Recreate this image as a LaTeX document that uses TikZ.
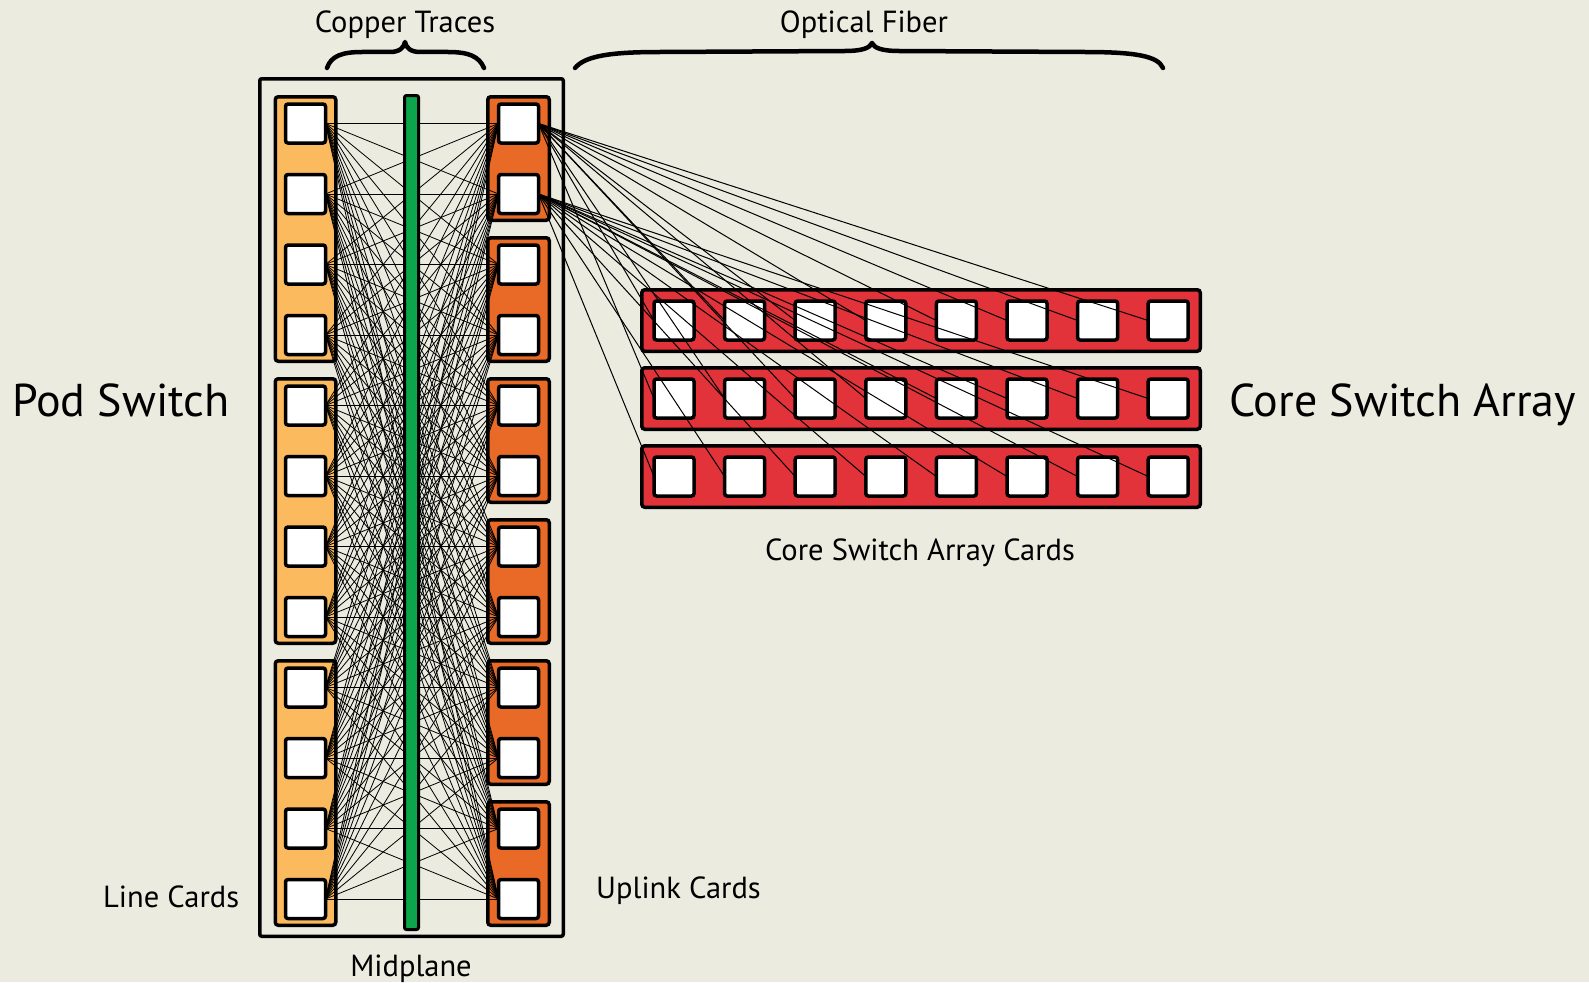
\documentclass[tikz,border=0pt]{standalone}
\usepackage{fontspec}
\setmainfont{PT Sans}
\definecolor{bgc}{RGB}{235,235,224}
\definecolor{lcol}{RGB}{252,186,94}
\definecolor{ucol}{RGB}{232,106,38}
\definecolor{gcol}{RGB}{12,165,75}
\definecolor{ccol}{RGB}{226,50,58}
\pgfdeclarelayer{lback}
\pgfdeclarelayer{lcards}
\pgfdeclarelayer{lwires}
\pgfdeclarelayer{ltop}
\pgfsetlayers{lback,lcards,lwires,main,ltop}
\begin{document}
\begin{tikzpicture}[x=1pt,y=-1pt,
  port/.style={draw=black,line width=3.5pt,fill=white,rounded corners=2.5pt,minimum width=40pt,minimum height=39pt,inner sep=0pt,outer sep=0pt},
  cardbase/.style={draw=black,line width=3.5pt,rounded corners=3pt,inner sep=0pt,outer sep=0pt},
  linecard/.style={cardbase,fill=lcol,minimum width=60.5pt,minimum height=264.5pt},
  upcard/.style={cardbase,fill=ucol,minimum width=61.5pt,minimum height=123.5pt},
  corecard/.style={cardbase,fill=ccol,minimum width=558.5pt,minimum height=61.5pt},
  podbox/.style={draw=black,line width=3.5pt,rounded corners=2pt,minimum width=303.5pt,minimum height=857.5pt,inner sep=0pt},
  midbar/.style={draw=black,line width=3pt,fill=gcol,rounded corners=2pt,minimum width=14pt,minimum height=834pt,inner sep=0pt},
  trace/.style={black,line width=0.8pt},
  fiber/.style={black,line width=1pt},
  bracestroke/.style={line width=4.5pt,line cap=round,line join=round},
  lbl/.style={font=\fontsize{30.5}{34}\selectfont,inner sep=0pt},
  biglbl/.style={font=\fontsize{46}{52}\selectfont,inner sep=0pt}]
\useasboundingbox (0,0) rectangle (1589,982);
\begin{pgfonlayer}{lback}
\fill[bgc] (0,0) rectangle (1589,982);
\end{pgfonlayer}
\begin{pgfonlayer}{lcards}
\node[podbox] (pod) at (411.5,507.5) {};
\foreach \k in {1,2,3}
  \node[linecard] (LC\k) at (305.5,{229+282*(\k-1)}) {};
\foreach \k in {1,...,6}
  \node[upcard] (UC\k) at (518.5,{158.5+141*(\k-1)}) {};
\foreach \r in {1,2,3}
  \node[corecard] (CC\r) at (921,{320.5+78*(\r-1)}) {};
\end{pgfonlayer}
% ports
\foreach \i in {1,...,12}{
  \node[port] (L\i) at (305.5,{123.5+70.5*(\i-1)}) {};
  \node[port] (R\i) at (518.5,{123.5+70.5*(\i-1)}) {};
}
\foreach \r in {1,2,3}
  \foreach \c in {1,...,8}
    \node[port] (C\r-\c) at ({674+70.6*(\c-1)},{320.5+78*(\r-1)}) {};
% copper traces
\begin{pgfonlayer}{lwires}
\foreach \i in {1,...,12}
  \foreach \j in {1,...,12}
    \draw[trace] (L\i.east) -- (R\j.west);
\end{pgfonlayer}
\node[midbar] (mid) at (411.5,512.5) {};
% optical fibers
\begin{pgfonlayer}{ltop}
\foreach \c in {1,...,8} \draw[fiber] (R1.east) -- (C1-\c.west);
\foreach \c in {1,...,4} \draw[fiber] (R1.east) -- (C2-\c.west);
\foreach \c in {5,...,8} \draw[fiber] (R2.east) -- (C2-\c.west);
\foreach \c in {1,...,8} \draw[fiber] (R2.east) -- (C3-\c.west);
\end{pgfonlayer}
% braces
\draw[bracestroke] (327,68) .. controls (331,56) and (342,52) .. (362,52) -- (390,52)
  .. controls (399,52) and (404,48) .. (405,42)
  .. controls (406,48) and (411,52) .. (420,52) -- (448,52)
  .. controls (468,52) and (479,56) .. (484,68);
\draw[bracestroke] (575,68) .. controls (585,56) and (610,52) .. (660,52) -- (845,51)
  .. controls (862,51) and (870,48) .. (872,43)
  .. controls (874,48) and (882,51) .. (899,51) -- (1085,52)
  .. controls (1135,52) and (1158,56) .. (1163,68);
% labels
\node[lbl,anchor=base] (tcopper) at (405,33) {Copper Traces};
\node[lbl,anchor=base] (tfiber) at (864,33) {Optical Fiber};
\node[biglbl,anchor=base west] (tpod) at (12,416) {Pod Switch};
\node[biglbl,anchor=base west] (tcore) at (1229,416) {Core Switch Array};
\node[lbl,anchor=base] (tcards) at (920,560) {Core Switch Array Cards};
\node[lbl,anchor=base west] (tline) at (103,907) {Line Cards};
\node[lbl,anchor=base west] (tup) at (596,898) {Uplink Cards};
\node[lbl,anchor=base] (tmid) at (411,976) {Midplane};
\end{tikzpicture}
\end{document}
